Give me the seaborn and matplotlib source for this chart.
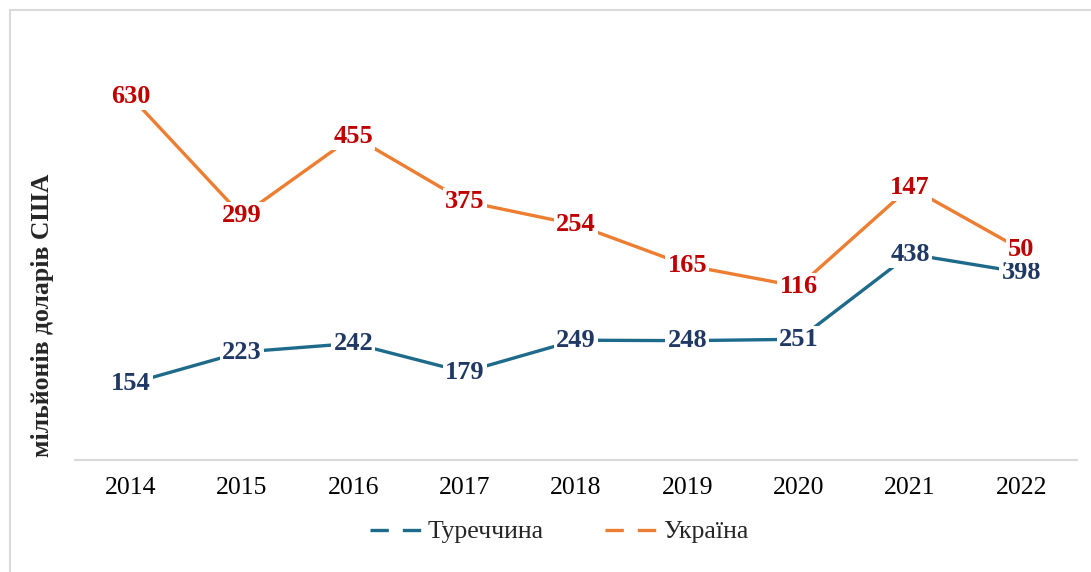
import matplotlib
matplotlib.use("Agg")
import matplotlib.pyplot as plt
import seaborn as sns
import pandas as pd
from matplotlib.lines import Line2D
from matplotlib.patches import Rectangle

years = ["2014", "2015", "2016", "2017", "2018", "2019", "2020", "2021", "2022"]
turkey = [154, 223, 242, 179, 249, 248, 251, 438, 398]
ukraine = [630, 299, 455, 375, 254, 165, 116, 147, 50]
series_names = ["Туреччина", "Україна"]

line_colors = ["#1D6A8B", "#ED7D31"]
label_colors = ["#1F3864", "#C00000"]

sns.set_theme(style="white")
plt.rcParams["font.family"] = ["Liberation Serif", "DejaVu Serif"]

# stacked line chart: Ukraine drawn on top of Turkey
ukraine_stacked = [t + u for t, u in zip(turkey, ukraine)]
df = pd.DataFrame({
    "year": years * 2,
    "series": [series_names[0]] * len(years) + [series_names[1]] * len(years),
    "value": turkey + ukraine_stacked,
})

fig = plt.figure(figsize=(10.91, 5.72), dpi=100)
ax = fig.add_axes([75 / 1091, 1 - 460 / 572, (1077 - 75) / 1091, (460 - 30) / 572])

sns.lineplot(data=df, x="year", y="value", hue="series", palette=line_colors,
             linewidth=2.4, sort=False, legend=False, ax=ax)

ax.set_xlim(-0.5, len(years) - 0.5)
ax.set_ylim(-14, 930)

for i in range(len(years)):
    ax.text(i, turkey[i], str(turkey[i]), ha="center", va="center", fontsize=19,
            fontweight="bold", color=label_colors[0],
            bbox=dict(boxstyle="square,pad=0.08", fc="white", ec="none"))
    ax.text(i, ukraine_stacked[i], str(ukraine[i]), ha="center", va="center", fontsize=19,
            fontweight="bold", color=label_colors[1],
            bbox=dict(boxstyle="square,pad=0.08", fc="white", ec="none"))

for s in ["top", "right", "left"]:
    ax.spines[s].set_visible(False)
ax.spines["bottom"].set_color("#D9D9D9")
ax.spines["bottom"].set_linewidth(1.5)
ax.set_yticks([])
ax.set_xlabel("")
ax.set_ylabel("")
ax.tick_params(axis="x", labelsize=18.5, colors="black", pad=12, length=0)

fig.text(43 / 1091, 1 - 315 / 572, "мільйонів доларів США", rotation=90,
         ha="center", va="center", fontsize=18.5, fontweight="bold")

handles = [Line2D([0], [0], color=c, lw=2.4, linestyle=(0, (5.5, 4.2))) for c in line_colors]
fig.legend(handles, series_names, loc="center", bbox_to_anchor=(559 / 1091, 1 - 532 / 572),
           ncol=2, frameon=False, fontsize=18.5, handlelength=2.0, handletextpad=0.25,
           columnspacing=2.4)

fig.patches.append(Rectangle((10 / 1091, -0.01), 1.0, 1 - 10 / 572 + 0.01,
                             transform=fig.transFigure, fill=False,
                             edgecolor="#D9D9D9", linewidth=1.5))

fig.savefig("out.png", dpi=100)
